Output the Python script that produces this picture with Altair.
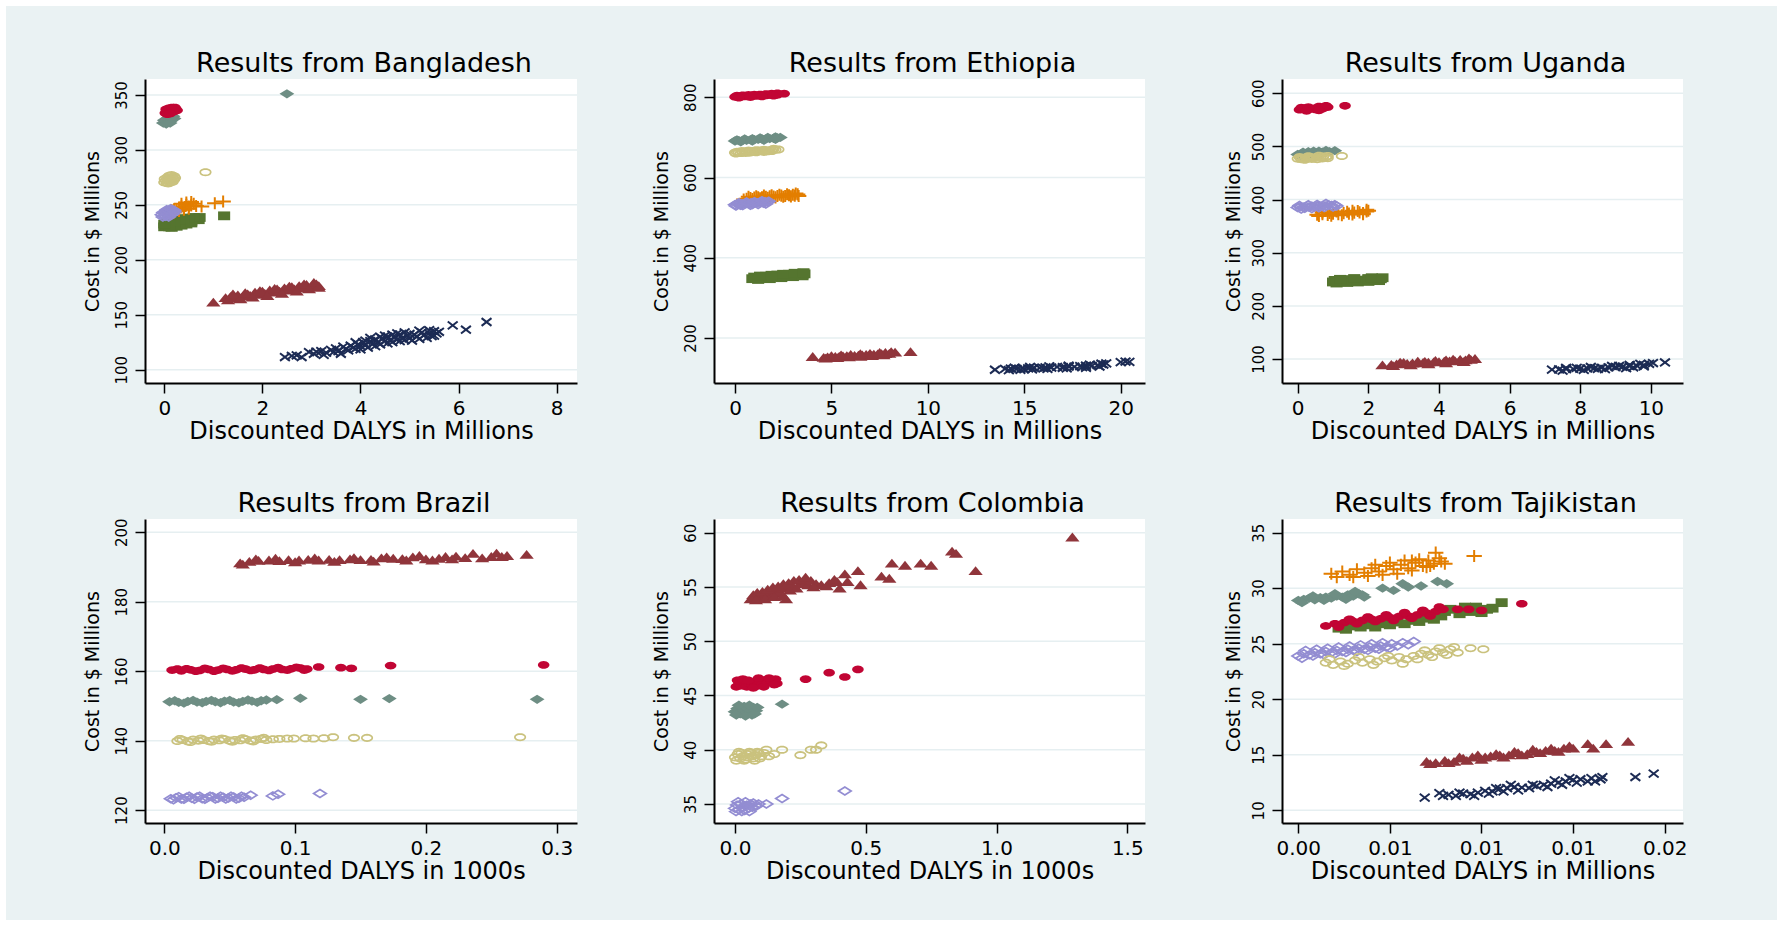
import json
import math
import altair as alt
import pandas as pd

# ---------------- data: (discounted DALYs, cost in $ millions) ----------------
# Bangladesh (DALYs in millions)
bgd_navy = [(2.46,111.5),(2.7,113),(2.95,116),(3.05,114.5),(3.2,117),(3.3,115.5),(3.4,118),(3.5,119.5),(3.55,117),(3.65,121),(3.7,119),(3.8,122),(3.85,120),(3.95,123),(4.0,121.5),(4.05,125),(4.1,123),(4.2,126),(4.25,123.5),(4.3,127.5),(4.35,125),(4.45,128),(4.5,126),(4.55,130),(4.6,127),(4.7,129.5),(4.75,127.5),(4.8,132),(4.85,129),(4.95,131),(5.0,128.5),(5.1,132),(5.15,130),(5.25,134),(5.3,131.5),(5.4,133),(5.5,135),(5.55,133),(5.88,140.3),(6.15,136.4),(6.57,143.4),
            (2.6,112.5),(2.8,111.5),(3.1,116.5),(3.25,113.5),(3.45,116),(3.6,114.5),(3.75,117.5),(3.9,119),(3.9,125),(4.0,118.5),(4.1,126.5),(4.15,120),(4.2,129),(4.3,121.5),(4.4,130),(4.4,123),(4.5,131),(4.55,124),(4.65,132),(4.65,125),(4.75,133),(4.8,126),(4.9,134),(4.9,127),(5.0,132.5),(5.05,126.5),(5.2,128),(5.2,135.5),(5.35,129),(5.4,136),(5.45,130.5),(5.5,131),(5.6,134.5)]
bgd_maroon = [(1.0,161.5),(1.25,165.5),(1.35,166.5),(1.45,165.5),(1.5,168),(1.6,167),(1.7,169),(1.75,167.5),(1.85,170.5),(1.9,168.5),(2.0,171.5),(2.05,169.5),(2.15,172.5),(2.2,170.5),(2.3,173.5),(2.35,171.5),(2.45,174.5),(2.5,172.5),(2.6,175.5),(2.65,173.5),(2.75,176.5),(2.8,174.5),(2.9,177.5),(3.0,176),(3.1,178),(3.15,176.5),
              (1.3,163.5),(1.4,169),(1.55,164.5),(1.65,170),(1.8,166),(1.95,172),(2.1,167.5),(2.25,174),(2.4,169.5),(2.55,176),(2.7,171.5),(2.85,178),(2.95,173.5),(3.05,179.5),(3.15,175)]
bgd_green = [(0.0,230),(0.05,231),(0.1,230),(0.15,232),(0.2,231),(0.25,233),(0.3,232.5),(0.35,234),(0.4,235),(0.45,234.5),(0.5,236),(0.55,235),(0.6,236.5),(0.65,237.5),(0.7,236.5),(0.72,238.5),(1.22,240),
             (0.05,233),(0.15,229.5),(0.25,230.5),(0.35,231.5),(0.45,232.5),(0.55,233.5),(0.6,238.5),(0.5,238),(0.4,237.5),(0.3,236),(0.2,234.5),(0.1,233.5),(0.0,232.5)]
bgd_orange = [(0.05,242),(0.1,243.5),(0.15,245),(0.2,246),(0.25,245.5),(0.3,247.5),(0.35,248.5),(0.4,247),(0.45,250),(0.5,248.5),(0.55,249.5),(0.6,251),(0.65,249),(0.76,248.5),(1.03,251.5),(1.2,253),
              (0.2,243),(0.3,244.5),(0.4,245.5),(0.5,246.5),(0.35,251),(0.45,252),(0.55,252.5)]
bgd_teal = [(-0.02,324.5),(0.02,325),(0.05,326),(0.08,325.5),(0.1,327),(0.13,326.5),(0.16,328),(0.2,328.5),(2.5,351),
            (0.0,327),(0.06,328.5),(0.12,329.5),(0.18,330.5),(0.04,323.5),(0.12,324.5)]
bgd_cranberry = [(0.02,333.5),(0.05,335.5),(0.08,334),(0.11,336),(0.14,334.5),(0.17,336.5),(0.2,335),(0.23,337),(0.26,336),
                 (0.04,337),(0.1,338),(0.16,338.5),(0.22,338.5),(0.06,332.5),(0.12,333)]
bgd_lavender = [(-0.05,241),(-0.02,243),(0.0,240),(0.02,242),(0.04,244),(0.06,241),(0.08,243),(0.1,245),(0.1,240.5),(0.12,242),(0.14,244),(0.16,245.5),(0.16,241.5),(0.18,243),(0.2,245),
                (-0.03,239),(0.03,239.5),(0.09,239),(0.13,246.5),(0.05,245.5),(0.21,243.5)]
bgd_khaki = [(0.0,270.5),(0.03,272),(0.05,270),(0.07,273),(0.09,271.5),(0.11,274),(0.12,270.5),(0.14,272.5),(0.16,275),(0.18,273.5),(0.2,276),(0.22,274.5),(0.84,279.7),
             (0.01,273.5),(0.06,275),(0.1,276.5),(0.15,277),(0.2,273),(0.08,269.5),(0.17,271)]

# Ethiopia (DALYs in millions)
eth_navy = [(13.48,121),(14.0,123),(14.3,124),(14.6,123),(14.9,125),(15.2,124.5),(15.5,126),(15.8,125.5),(16.1,127),(16.4,126.5),(16.7,128),(17.0,127.5),(17.3,129),(17.6,128.5),(17.9,130),(18.2,131),(18.5,130.5),(18.8,132.5),(19.1,134),(19.25,137),(20.0,140),(20.25,141.5),(20.45,140.5),(15.0,122.5),(16.0,124.5),(17.0,125.5),(18.0,127.5),
            (14.2,120),(14.8,121),(15.4,122),(16.2,123),(17.2,124.5),(18.2,126),(18.9,129),(14.5,126),(15.3,128),(16.3,129.5),(17.3,131),(18.4,133.5),(19.0,136)]
eth_maroon = [(4.03,154),(4.6,152),(4.8,153),(5.0,153.5),(5.2,154),(5.4,154.5),(5.6,155.5),(5.8,156),(6.0,156.5),(6.2,157),(6.4,157.5),(6.6,158),(6.8,159),(7.0,159.5),(7.2,160),(7.4,160.5),(7.6,161),(7.8,161.5),(8.0,162),(8.3,165),(9.1,166),(5.0,156),(6.0,159),(7.0,162),(7.8,164),
              (4.7,150),(5.3,151),(5.9,153),(6.5,154.5),(7.1,156),(7.7,158),(5.5,158),(6.5,161),(7.5,164),(8.1,166)]
eth_green = [(0.9,348),(1.1,349),(1.3,350),(1.5,350.5),(1.7,351.5),(1.9,352.5),(2.1,353),(2.3,354),(2.5,355),(2.7,355.5),(2.9,356.5),(3.1,357.5),(3.3,358),(3.5,359),(3.6,360),(1.0,352),(1.6,354),(2.2,357),(2.8,359),(3.4,361),
             (1.2,346),(1.8,348),(2.4,350.5),(3.0,353),(3.5,355),(1.3,354.5),(1.9,356.5),(2.5,359),(3.1,361.5),(3.55,363)]
eth_orange = [(0.6,547),(0.8,549),(1.0,550),(1.2,551),(1.4,550.5),(1.6,552),(1.8,553),(2.0,552.5),(2.2,554),(2.4,555),(2.6,554),(2.8,556),(3.0,557),(3.1,555),(3.25,558),(1.1,553),(1.9,555.5),(2.7,558.5),
              (0.45,545),(0.9,546.5),(1.3,548),(1.7,549.5),(2.1,550.5),(2.5,552),(2.9,553),(3.3,554),(0.7,552),(1.5,555),(2.3,557),(3.15,560)]
eth_teal = [(0.0,691),(0.2,692),(0.4,692.5),(0.6,693),(0.8,694),(1.0,694.5),(1.2,695),(1.4,696),(1.6,696.5),(1.8,697),(2.0,698),(2.2,699),(2.35,700),
            (0.1,694),(0.5,696),(0.9,697),(1.3,699),(1.7,700),(2.1,701),(0.3,689),(0.9,691),(1.5,693),(2.1,695)]
eth_cranberry = [(0.0,801),(0.15,801.5),(0.3,802),(0.45,802),(0.6,802.5),(0.75,803),(0.9,803.5),(1.05,803.5),(1.2,804),(1.35,804.5),(1.5,805),(1.65,805),(1.8,806),(1.95,806.5),(2.1,807),(2.2,806),(2.55,809),
                 (0.1,804),(0.4,805),(0.7,806),(1.0,806.5),(1.3,807),(1.6,808),(1.9,809),(2.2,810),(0.2,799),(0.8,800.5),(1.4,802),(2.0,804)]
eth_lavender = [(0.0,532),(0.12,534),(0.24,533),(0.36,535),(0.48,534),(0.6,536),(0.72,535),(0.84,537),(0.96,536),(1.08,538),(1.2,537),(1.32,539),(1.44,538),(1.56,540),(1.7,539),(0.3,531),(0.9,533),(1.5,536),
                (0.05,529),(0.4,530),(0.8,531),(1.2,533),(1.6,534),(0.2,537),(0.6,539),(1.0,540),(1.4,542),(1.75,541)]
eth_khaki = [(0.0,662),(0.2,662.5),(0.4,663),(0.6,663.5),(0.8,664),(1.0,665),(1.2,665.5),(1.4,666),(1.6,667),(1.8,668),(1.95,669),(2.1,669.5),(2.25,670),(0.1,664),(0.5,665),(0.9,666),(1.3,667.5),(1.7,665.5),
             (0.05,660),(0.3,661),(0.55,661.5),(0.75,662),(1.1,663),(1.5,664),(1.9,666),(0.35,666),(0.7,667),(1.1,668),(1.5,669),(2.0,671.5)]

# Uganda (DALYs in millions)
uga_navy = [(7.2,80),(7.4,80.5),(7.6,81),(7.8,81.5),(8.0,82),(8.2,82.5),(8.4,83),(8.6,83.5),(8.8,84.5),(9.0,85),(9.2,85.5),(9.4,86.5),(9.6,87.5),(9.8,89),(9.95,91),(10.06,92.5),(10.4,93.5),(7.9,83.5),(8.5,81.5),(9.1,87),(9.5,84.5),
            (7.5,78),(8.1,79.5),(8.7,81),(9.3,83),(9.8,86),(7.6,83.5),(8.3,85),(8.9,87),(9.4,89),(9.7,91)]
uga_maroon = [(2.4,89),(2.65,90),(2.8,91),(2.95,91.5),(3.1,92),(3.25,92.5),(3.4,93),(3.55,93.5),(3.7,94),(3.85,94.5),(4.0,95),(4.15,96),(4.3,96.5),(4.45,97),(4.6,98),(4.75,98.5),(4.9,99.5),(5.02,101),(3.0,93.5),(3.6,95.5),(4.2,98.5),(4.6,99.5),
              (2.7,87.5),(3.2,89),(3.7,91),(4.2,93),(4.7,95),(2.9,94),(3.4,96),(3.9,97.5),(4.4,100),(4.85,102)]
uga_green = [(1.0,245),(1.1,246),(1.2,245.5),(1.3,246.5),(1.4,247),(1.5,246.5),(1.6,247.5),(1.7,248),(1.8,247.5),(1.9,248.5),(2.0,249),(2.1,248.5),(2.2,249.5),(2.3,250),(2.35,251),(1.05,248),(1.5,249.5),(2.0,251.5),
             (1.1,243),(1.4,244),(1.7,245),(2.0,246),(2.3,247.5),(1.2,250),(1.6,251.5),(2.1,253),(2.4,253)]
uga_orange = [(0.55,371.5),(0.7,372.5),(0.85,371),(1.0,373.5),(1.15,372.5),(1.3,374.5),(1.45,373.5),(1.6,375.5),(1.75,376),(1.85,374.5),(1.95,377.5),(2.0,379),(0.9,375),(1.4,377),(1.7,378.5),
              (0.6,369),(0.95,369.5),(1.25,370.5),(1.55,372),(1.85,372.5),(0.7,376),(1.1,377.5),(1.55,379),(1.95,381)]
uga_teal = [(0.0,485),(0.1,486),(0.2,486.5),(0.3,487),(0.4,487.5),(0.5,488),(0.6,488.5),(0.7,489),(0.8,489.5),(0.9,490),(1.05,492),(0.3,490),(0.6,491),
            (0.1,483),(0.4,484.5),(0.7,486),(0.15,489),(0.45,491),(0.8,492.5)]
uga_cranberry = [(0.05,569),(0.15,570),(0.25,570.5),(0.35,571),(0.45,571.5),(0.55,572),(0.65,573),(0.75,573.5),(0.85,574),(0.2,572),(0.5,569.5),(0.7,571),(1.34,576.5),
                 (0.1,573),(0.3,574),(0.6,575),(0.8,576.5),(0.25,567),(0.6,568)]
uga_lavender = [(0.0,385),(0.08,386.5),(0.16,385.5),(0.24,387),(0.32,386),(0.4,387.5),(0.48,386.5),(0.56,388),(0.64,387),(0.72,389),(0.8,388),(0.88,390),(0.96,389),(1.05,390.5),(0.2,383.5),(0.6,384.5),(1.0,386),
                (0.05,389),(0.3,390.5),(0.55,391),(0.8,392.5),(0.1,382),(0.4,383),(0.75,385),(1.1,388)]
uga_khaki = [(0.0,477),(0.08,478.5),(0.16,477.5),(0.24,479),(0.32,478),(0.4,479.5),(0.48,478.5),(0.56,480),(0.64,479),(0.72,481),(0.8,480),(0.85,482),(1.25,482),(0.1,476),(0.4,476.5),(0.7,477.5),
             (0.05,480),(0.3,481.5),(0.6,482.5),(0.2,475),(0.55,476),(0.85,478)]

# Brazil (DALYs in 1000s)
bra_maroon = [(0.058,191.2),(0.065,191.6),(0.072,191.9),(0.08,192.0),(0.088,191.8),(0.095,192.1),(0.103,192.0),(0.11,192.2),(0.118,192.0),(0.126,192.2),(0.134,192.1),(0.142,192.3),(0.15,192.1),(0.158,192.2),(0.166,192.6),(0.175,192.5),(0.182,192.4),(0.19,192.9),(0.2,192.3),(0.205,192.0),(0.215,193.0),(0.223,193.1),(0.23,192.7),(0.236,193.9),(0.243,192.6),(0.254,194.0),(0.258,193.0),(0.277,193.6),
              (0.06,190.8),(0.07,192.3),(0.085,192.5),(0.1,191.5),(0.115,192.6),(0.13,191.6),(0.145,192.7),(0.16,191.7),(0.17,192.9),(0.185,192.0),(0.195,193.3),(0.21,192.5),(0.22,192.3),(0.25,193.0),(0.262,193.3)]
bra_teal = [(0.004,151.2),(0.011,151.0),(0.018,151.3),(0.025,151.1),(0.032,151.3),(0.039,151.2),(0.046,151.4),(0.053,151.1),(0.06,151.3),(0.067,151.4),(0.074,151.5),(0.086,151.8),(0.104,152.2),(0.15,151.9),(0.172,152.1),(0.285,151.9),
            (0.008,151.5),(0.015,150.8),(0.022,151.6),(0.029,150.9),(0.036,151.6),(0.043,150.9),(0.05,151.6),(0.057,150.9),(0.064,151.7),(0.071,151.0),(0.078,151.7)]
bra_cranberry = [(0.006,160.3),(0.013,160.1),(0.02,160.4),(0.027,160.2),(0.034,160.5),(0.041,160.3),(0.048,160.5),(0.055,160.4),(0.062,160.6),(0.069,160.4),(0.076,160.5),(0.083,160.6),(0.09,160.5),(0.097,160.7),(0.104,160.9),(0.109,160.6),(0.118,161.2),(0.135,161.0),(0.143,160.8),(0.173,161.6),(0.29,161.8),
                 (0.01,160.6),(0.017,160.7),(0.024,160.0),(0.031,160.8),(0.038,160.0),(0.045,160.8),(0.052,160.1),(0.059,160.9),(0.066,160.2),(0.073,160.9),(0.08,160.2),(0.087,161.0),(0.094,160.3),(0.101,161.1),(0.107,160.3)]
bra_lavender = [(0.005,123.3),(0.009,123.6),(0.013,123.2),(0.017,123.7),(0.021,123.4),(0.025,123.8),(0.029,123.3),(0.033,123.6),(0.037,123.9),(0.041,123.4),(0.045,123.7),(0.049,123.5),(0.053,123.8),(0.057,123.4),(0.061,123.7),(0.066,124.3),(0.083,124.1),(0.087,124.6),(0.119,124.8),
                (0.007,123.0),(0.011,123.9),(0.015,123.1),(0.019,124.0),(0.023,123.1),(0.027,124.0),(0.031,123.1),(0.035,124.0),(0.039,123.2),(0.043,124.0),(0.047,123.2),(0.051,124.0),(0.055,123.2),(0.059,124.0)]
bra_khaki = [(0.01,139.9),(0.014,140.2),(0.018,139.8),(0.022,140.3),(0.026,140.0),(0.03,140.2),(0.034,139.9),(0.038,140.3),(0.042,140.1),(0.046,140.4),(0.05,140.0),(0.054,140.2),(0.058,140.1),(0.062,140.4),(0.066,140.0),(0.07,140.3),(0.074,140.5),(0.078,140.2),(0.083,140.4),(0.088,140.5),(0.094,140.6),(0.099,140.6),(0.108,140.7),(0.114,140.6),(0.122,140.7),(0.129,141.0),(0.145,140.8),(0.155,140.8),(0.272,141.0),
             (0.012,140.5),(0.02,139.6),(0.028,140.6),(0.036,139.7),(0.044,140.6),(0.052,139.7),(0.06,140.7),(0.068,139.8),(0.076,140.8)]

# Colombia (DALYs in 1000s)
col_maroon = [(0.06,53.9),(0.075,54.1),(0.09,54.0),(0.1,54.3),(0.11,54.1),(0.12,54.4),(0.13,54.2),(0.14,54.6),(0.15,54.4),(0.16,54.8),(0.17,54.5),(0.18,54.9),(0.195,53.9),(0.2,55.0),(0.21,54.7),(0.22,55.1),(0.235,54.9),(0.25,55.3),(0.265,55.5),(0.28,55.2),(0.29,55.6),(0.31,55.3),(0.33,55.2),(0.36,55.4),(0.39,55.5),(0.4,54.9),(0.42,56.2),(0.43,55.5),(0.47,56.5),(0.48,55.2),(0.56,56.0),(0.59,55.8),(0.6,57.2),(0.65,57.0),(0.71,57.2),(0.75,57.0),(0.83,58.3),(0.845,58.1),(0.92,56.5),(1.29,59.6),
              (0.07,54.3),(0.085,54.5),(0.105,54.6),(0.125,54.8),(0.145,55.0),(0.165,55.1),(0.185,55.3),(0.205,55.4),(0.225,55.6),(0.245,55.7),(0.27,55.9),(0.08,53.8),(0.115,53.9),(0.15,54.1),(0.185,54.2),(0.3,55.0),(0.35,55.1),(0.38,55.7)]
col_teal = [(0.0,43.5),(0.01,43.8),(0.02,43.3),(0.03,43.6),(0.035,44.0),(0.045,43.4),(0.05,43.8),(0.06,43.6),(0.065,43.2),(0.07,43.9),(0.08,43.6),(0.18,44.2),
            (0.005,43.2),(0.015,44.1),(0.04,43.1),(0.055,44.1),(0.075,43.3),(0.085,43.9)]
col_cranberry = [(0.005,45.8),(0.015,46.1),(0.025,45.9),(0.035,46.2),(0.045,45.8),(0.055,46.1),(0.065,46.0),(0.075,46.2),(0.085,45.9),(0.095,46.3),(0.105,46.1),(0.115,46.4),(0.125,46.2),(0.14,46.3),(0.155,46.5),(0.16,46.1),(0.27,46.5),(0.36,47.1),(0.42,46.7),(0.47,47.4),
                 (0.01,46.4),(0.03,46.5),(0.05,46.4),(0.07,45.7),(0.09,46.6),(0.11,45.8),(0.13,46.6),(0.15,46.0)]
col_lavender = [(0.0,34.6),(0.008,34.9),(0.015,34.5),(0.022,35.0),(0.03,34.7),(0.037,34.4),(0.045,34.9),(0.052,34.6),(0.06,35.0),(0.067,34.7),(0.09,35.0),(0.12,35.0),(0.18,35.5),(0.42,36.2),
                (0.004,34.3),(0.012,35.2),(0.026,34.3),(0.04,35.2),(0.055,34.3),(0.07,35.1),(0.08,34.8)]
col_khaki = [(0.0,39.3),(0.01,39.6),(0.02,39.2),(0.025,39.7),(0.03,39.4),(0.04,39.1),(0.045,39.6),(0.05,39.3),(0.06,39.7),(0.065,39.4),(0.07,39.2),(0.08,39.5),(0.09,39.7),(0.1,39.4),(0.12,40.0),(0.15,39.6),(0.18,40.0),(0.25,39.5),(0.29,40.0),(0.31,40.0),(0.33,40.4),
             (0.005,39.0),(0.015,39.8),(0.035,39.0),(0.055,39.8),(0.075,39.0),(0.085,39.8),(0.095,39.2),(0.11,39.7),(0.13,39.4)]

# Tajikistan (DALYs in millions)
tjk_navy = [(0.0069,11.15),(0.0077,11.55),(0.0082,11.4),(0.0086,11.3),(0.009,11.5),(0.0094,11.45),(0.0098,11.6),(0.0102,11.75),(0.0106,11.7),(0.011,11.95),(0.0114,12.0),(0.0118,12.1),(0.0122,12.05),(0.0126,12.0),(0.013,12.2),(0.0134,12.3),(0.0138,12.4),(0.0142,12.5),(0.0146,12.6),(0.015,12.75),(0.0154,12.8),(0.0158,12.6),(0.016,12.9),(0.0165,12.8),(0.0184,13.0),(0.0194,13.3),
            (0.0079,11.3),(0.0088,11.6),(0.0096,11.3),(0.0104,11.5),(0.0112,11.7),(0.012,11.8),(0.0128,12.3),(0.0136,12.1),(0.0144,12.3),(0.0152,12.5),(0.0162,12.6),(0.0166,13.0),(0.0108,12.0),(0.0116,12.3),(0.014,12.7),(0.0148,12.9)]
tjk_maroon = [(0.007,14.4),(0.0075,14.3),(0.008,14.5),(0.0085,14.4),(0.009,14.7),(0.0095,14.8),(0.01,14.6),(0.0105,14.9),(0.011,15.0),(0.0115,15.0),(0.012,15.2),(0.0125,15.1),(0.013,15.3),(0.0135,15.4),(0.014,15.4),(0.0145,15.6),(0.015,15.6),(0.0158,16.0),(0.0161,15.6),(0.0168,16.0),(0.018,16.2),
              (0.0072,14.2),(0.0082,14.3),(0.0092,14.5),(0.0102,14.8),(0.0112,14.8),(0.0122,15.0),(0.0132,15.2),(0.0142,15.3),(0.0148,15.8),(0.0138,15.6),(0.0128,15.5),(0.0118,15.3),(0.0108,15.1),(0.0098,15.0),(0.0088,14.8)]
tjk_green = [(0.0022,26.4),(0.003,26.6),(0.0038,26.7),(0.0046,26.8),(0.0054,26.95),(0.0062,27.1),(0.007,27.3),(0.0078,27.5),(0.0083,28.1),(0.0088,27.7),(0.0094,27.9),(0.0097,28.3),(0.0103,28.1),(0.0111,28.7),
             (0.0026,26.3),(0.0034,26.5),(0.0042,26.5),(0.005,26.7),(0.0058,26.8),(0.0066,27.0),(0.0074,27.2),(0.008,27.9),(0.0091,28.3),(0.01,27.8),(0.0106,28.2)]
tjk_orange = [(0.0018,31.3),(0.0024,31.5),(0.0028,31.2),(0.0032,31.7),(0.0036,31.4),(0.004,31.8),(0.0044,31.5),(0.0048,32.0),(0.0052,31.7),(0.0056,32.1),(0.006,31.8),(0.0064,32.3),(0.0068,32.0),(0.0071,32.5),(0.0074,32.2),(0.0075,33.2),(0.0078,32.4),(0.0096,32.9),(0.0046,31.2),(0.0062,32.5),(0.007,31.9),
              (0.0021,31.0),(0.003,31.0),(0.0038,31.1),(0.0042,32.1),(0.005,32.3),(0.0054,31.3),(0.0058,32.5),(0.0062,31.6),(0.0066,32.6),(0.0072,32.0),(0.0077,32.7),(0.008,32.2)]
tjk_teal = [(0.0,28.9),(0.0003,29.0),(0.0006,29.1),(0.0009,28.95),(0.0012,29.15),(0.0015,29.2),(0.0018,29.1),(0.0021,29.3),(0.0024,29.2),(0.0027,29.4),(0.003,29.3),(0.0033,29.5),(0.0035,29.4),(0.0046,30.0),(0.0052,29.8),(0.0057,30.4),(0.006,30.1),(0.0067,30.2),(0.0076,30.6),(0.0081,30.4),
            (0.0002,28.7),(0.0008,29.3),(0.0014,28.9),(0.002,29.5),(0.0026,29.0),(0.0031,29.7),(0.0036,29.2)]
tjk_cranberry = [(0.0015,26.6),(0.002,26.8),(0.0025,26.9),(0.003,27.0),(0.0035,27.1),(0.004,27.2),(0.0045,27.25),(0.005,27.35),(0.0055,27.45),(0.006,27.5),(0.0065,27.6),(0.007,27.75),(0.0075,27.9),(0.0079,28.1),(0.0087,28.1),(0.0093,28.1),(0.01,28.0),(0.0122,28.6),
                 (0.0022,26.5),(0.0032,26.8),(0.0042,27.0),(0.0052,27.1),(0.0062,27.3),(0.0072,27.5),(0.0028,27.2),(0.0038,27.4),(0.0048,27.6),(0.0058,27.8),(0.0068,28.0),(0.0077,28.3)]
tjk_lavender = [(0.0,23.9),(0.0003,24.1),(0.0006,24.0),(0.0009,24.2),(0.0012,24.1),(0.0015,24.3),(0.0018,24.2),(0.0021,24.4),(0.0024,24.3),(0.0027,24.5),(0.003,24.4),(0.0033,24.6),(0.0036,24.5),(0.0039,24.7),(0.0042,24.6),(0.0045,24.8),(0.0048,24.7),(0.0051,25.0),(0.0054,24.8),(0.0057,25.1),(0.0063,25.2),
                (0.0002,23.7),(0.0008,23.9),(0.0014,24.0),(0.002,24.1),(0.0026,24.2),(0.0032,24.3),(0.0038,24.4),(0.0044,24.5),(0.005,24.6),(0.0004,24.4),(0.001,24.5),(0.0016,24.6),(0.0022,24.7),(0.0028,24.8),(0.0034,24.9),(0.004,25.0),(0.0046,25.1),(0.006,24.9)]
tjk_khaki = [(0.0015,23.3),(0.0019,23.1),(0.0023,23.4),(0.0027,23.2),(0.0031,23.5),(0.0035,23.3),(0.0039,23.6),(0.0043,23.4),(0.0047,23.7),(0.0051,23.5),(0.0055,23.8),(0.0059,23.6),(0.0063,23.9),(0.0067,24.1),(0.0071,24.0),(0.0075,24.3),(0.0079,24.2),(0.0083,24.5),(0.0087,24.2),(0.0094,24.6),(0.0101,24.5),
             (0.0017,23.6),(0.0025,23.0),(0.0033,23.8),(0.0041,23.1),(0.0049,23.9),(0.0057,23.2),(0.0065,23.6),(0.0073,23.8),(0.0081,24.0),(0.0069,24.4),(0.0077,24.6),(0.0085,24.7)]

# tick values / labels
bgd_xticks = [0, 2, 4, 6, 8]
bgd_yticks = [100, 150, 200, 250, 300, 350]
eth_xticks = [0, 5, 10, 15, 20]
eth_yticks = [200, 400, 600, 800]
uga_xticks = [0, 2, 4, 6, 8, 10]
uga_yticks = [100, 200, 300, 400, 500, 600]
bra_xticks = [0.0, 0.1, 0.2, 0.3]
bra_yticks = [120, 140, 160, 180, 200]
col_xticks = [0.0, 0.5, 1.0, 1.5]
col_yticks = [35, 40, 45, 50, 55, 60]
tjk_xticks = [0.0, 0.005, 0.01, 0.015, 0.02]
tjk_xlabels = ["0.00", "0.01", "0.01", "0.01", "0.02"]
tjk_yticks = [10, 15, 20, 25, 30, 35]

# ---------------- styling ----------------
FONT = "DejaVu Sans"
BG = "#EAF2F3"
GRID = "#E6EFF1"
HEIGHT = 304
COL_WIDTHS = [432, 431, 401]
COL_SPACING = 137
ROW_SPACING = 136
MSIZE = 121


def ellipse_path(rx, ry, n=24):
    pts = [(rx * math.cos(2 * math.pi * i / n), ry * math.sin(2 * math.pi * i / n)) for i in range(n)]
    return "M" + "L".join(f"{a:.3f},{b:.3f}" for a, b in pts) + "Z"


SERIES_ORDER = ["navy", "maroon", "green", "orange", "teal", "cranberry", "lavender", "khaki"]
STYLE = {
    "navy": dict(color="#1C2B54", shape="M-0.9,-0.7L0.9,0.7M-0.9,0.7L0.9,-0.7", filled=False, sw=2.0),
    "maroon": dict(color="#90353B", shape="M0,-0.8L1.3,0.8L-1.3,0.8Z", filled=True, sw=0),
    "green": dict(color="#55752F", shape="M-1.1,-0.8L1.1,-0.8L1.1,0.8L-1.1,0.8Z", filled=True, sw=0),
    "orange": dict(color="#E37E00", shape="M-1.4,0L1.4,0M0,-1.1L0,1.1", filled=False, sw=2.0),
    "teal": dict(color="#6E8E84", shape="M-1.35,0L0,-0.85L1.35,0L0,0.85Z", filled=True, sw=0),
    "cranberry": dict(color="#C10534", shape=ellipse_path(1.05, 0.7), filled=True, sw=0),
    "lavender": dict(color="#938DD2", shape="M-1.15,0L0,-0.72L1.15,0L0,0.72Z", filled=False, sw=1.7),
    "khaki": dict(color="#CAC27E", shape=ellipse_path(0.95, 0.58), filled=False, sw=1.7),
}

PANELS = [
    dict(title="Results from Bangladesh", ytx=-47,
         series=dict(navy=bgd_navy, maroon=bgd_maroon, green=bgd_green, orange=bgd_orange, teal=bgd_teal,
                     cranberry=bgd_cranberry, lavender=bgd_lavender, khaki=bgd_khaki),
         xdom=[-0.393, 8.414], ydom=[87.9, 364.5], xticks=bgd_xticks, yticks=bgd_yticks,
         xtitle="Discounted DALYS in Millions", xfmt="d"),
    dict(title="Results from Ethiopia", ytx=-47,
         series=dict(navy=eth_navy, maroon=eth_maroon, green=eth_green, orange=eth_orange, teal=eth_teal,
                     cranberry=eth_cranberry, lavender=eth_lavender, khaki=eth_khaki),
         xdom=[-1.089, 21.26], ydom=[88.0, 845.6], xticks=eth_xticks, yticks=eth_yticks,
         xtitle="Discounted DALYS in Millions", xfmt="d"),
    dict(title="Results from Uganda", ytx=-43,
         series=dict(navy=uga_navy, maroon=uga_maroon, green=uga_green, orange=uga_orange, teal=uga_teal,
                     cranberry=uga_cranberry, lavender=uga_lavender, khaki=uga_khaki),
         xdom=[-0.445, 10.91], ydom=[54.9, 626.9], xticks=uga_xticks, yticks=uga_yticks,
         xtitle="Discounted DALYS in Millions", xfmt="d"),
    dict(title="Results from Brazil", ytx=-47,
         series=dict(maroon=bra_maroon, teal=bra_teal, cranberry=bra_cranberry, lavender=bra_lavender,
                     khaki=bra_khaki),
         xdom=[-0.01476, 0.3155], ydom=[116.3, 203.8], xticks=bra_xticks, yticks=bra_yticks,
         xtitle="Discounted DALYS in 1000s", xfmt=".1f"),
    dict(title="Results from Colombia", ytx=-47,
         series=dict(maroon=col_maroon, teal=col_teal, cranberry=col_cranberry, lavender=col_lavender,
                     khaki=col_khaki),
         xdom=[-0.0803, 1.5677], ydom=[33.25, 61.26], xticks=col_xticks, yticks=col_yticks,
         xtitle="Discounted DALYS in 1000s", xfmt=".1f"),
    dict(title="Results from Tajikistan", ytx=-43,
         series=dict(navy=tjk_navy, maroon=tjk_maroon, green=tjk_green, orange=tjk_orange, teal=tjk_teal,
                     cranberry=tjk_cranberry, lavender=tjk_lavender, khaki=tjk_khaki),
         xdom=[-0.00089, 0.021], ydom=[8.86, 36.23], xticks=tjk_xticks, yticks=tjk_yticks,
         xtitle="Discounted DALYS in Millions",
         xexpr=json.dumps(tjk_xlabels) + "[round(datum.value / 0.005)]"),
]


def make_panel(p, width, first=False):
    rows = []
    for key in SERIES_ORDER:
        for (xv, yv) in p["series"].get(key, []):
            rows.append({"x": xv, "y": yv, "s": key})
    df = pd.DataFrame(rows)

    common = dict(grid=False, domainColor="black", domainWidth=2, tickColor="black", tickWidth=1.5,
                  tickSize=10, labelFont=FONT, labelColor="black", labelFlush=False, labelOverlap=False,
                  titleFont=FONT, titleFontWeight="normal", titleColor="black", zindex=1)
    xfmt = {"labelExpr": p["xexpr"]} if "xexpr" in p else {"format": p["xfmt"]}
    xaxis = alt.Axis(values=p["xticks"], title=p["xtitle"], labelFontSize=20, labelBaseline="top",
                     labelPadding=5, titleFontSize=24, titleY=55, titleBaseline="alphabetic",
                     **xfmt, **common)
    yaxis = alt.Axis(values=p["yticks"], title="Cost in $ Millions", format="d", labelFontSize=15,
                     labelAngle=270, labelAlign="center", labelBaseline="alphabetic", labelPadding=9,
                     titleFontSize=19, titleAngle=270, titleAlign="center", titleBaseline="alphabetic",
                     titleX=p["ytx"], titleY=HEIGHT / 2, **common)
    X = alt.X("x:Q", scale=alt.Scale(domain=p["xdom"], nice=False, zero=False), axis=xaxis)
    Y = alt.Y("y:Q", scale=alt.Scale(domain=p["ydom"], nice=False, zero=False), axis=yaxis)

    layers = []
    one = pd.DataFrame({"a": [0]})
    if first:
        # light figure background (white border outside) and the white plot region of this panel
        layers.append(alt.Chart(one).mark_rect(color=BG).encode(
            x=alt.value(-139), x2=alt.value(1632), y=alt.value(-73), y2=alt.value(841)))
        layers.append(alt.Chart(one).mark_rect(color="white").encode(
            x=alt.value(0), x2=alt.value(width), y=alt.value(0), y2=alt.value(HEIGHT)))
    layers.append(alt.Chart(pd.DataFrame({"y": p["yticks"]})).mark_rule(color=GRID, strokeWidth=1.5)
                  .encode(y=Y))
    for key in SERIES_ORDER:
        if key not in p["series"]:
            continue
        st = STYLE[key]
        kw = dict(shape=st["shape"], filled=st["filled"], color=st["color"], size=MSIZE, opacity=1,
                  strokeWidth=st["sw"])
        layers.append(alt.Chart(df).transform_filter(alt.datum.s == key).mark_point(**kw)
                      .encode(x=X, y=Y))
    # panel title, drawn as a text mark centred over the plot region
    layers.append(alt.Chart(one).mark_text(text=p["title"], font=FONT, fontSize=27, color="black",
                                           align="center", baseline="alphabetic")
                  .encode(x=alt.value(width / 2 + 3), y=alt.value(-7)))
    return alt.layer(*layers).properties(width=width, height=HEIGHT)


panels = [make_panel(p, COL_WIDTHS[i % 3], first=(i == 0)) for i, p in enumerate(PANELS)]

chart = alt.concat(*panels, columns=3, spacing={"row": ROW_SPACING, "column": COL_SPACING},
                   bounds="flush").properties(
    background="white",
    padding={"left": 6, "top": 6, "right": 2, "bottom": 5},
).configure_view(stroke=None, fill="white")

chart.save("out.html", embed_options={"renderer": "svg", "actions": False})
